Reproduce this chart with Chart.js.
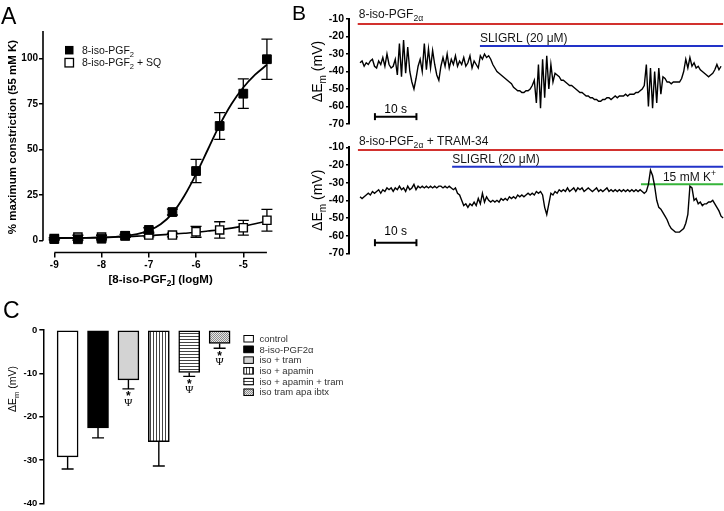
<!DOCTYPE html>
<html>
<head>
<meta charset="utf-8">
<title>8-iso-PGF2α figure</title>
<script src="https://cdn.jsdelivr.net/npm/chart.js@4.4.1/dist/chart.umd.min.js"></script>
<style>
  html, body { margin: 0; padding: 0; background: #fff; }
  #fig { position: relative; width: 724px; height: 511px; overflow: hidden; }
  #fig canvas { position: absolute; left: 0; top: 0; }
</style>
</head>
<body>
<div id="fig">
  <canvas id="chartA" width="724" height="511"></canvas>
  <canvas id="chartB1" width="724" height="511"></canvas>
  <canvas id="chartB2" width="724" height="511"></canvas>
  <canvas id="chartC" width="724" height="511"></canvas>
</div>
<script>
// ---- panel A: concentration-response (mean ± SEM) ----
const aLogConc = [-9, -8.5, -8, -7.5, -7, -6.5, -6, -5.5, -5, -4.5];
const aIsoMean = [0.9, 0.8, 1.1, 2.7, 5.9, 15.7, 38.2, 62.9, 80.6, 99.5];
const aIsoSem = [0.6, 0.6, 0.6, 0.8, 1.2, 1.6, 6.4, 7.3, 8.1, 11.0];
const aSqMean = [1.2, 2.0, 2.0, 2.7, 3.1, 3.1, 4.9, 5.9, 7.1, 11.2];
const aSqSem = [0.5, 1.0, 1.0, 0.8, 1.0, 1.0, 3.0, 4.5, 4.0, 6.0];
// fitted curves
const aFitX = [-9, -8.5, -8, -7.75, -7.5, -7.25, -7, -6.75, -6.5, -6.25, -6, -5.75, -5.5, -5.25, -5, -4.75, -4.5];
const aIsoFit = [1.5, 1.5, 1.7, 2.0, 2.6, 3.6, 5.5, 9.0, 15.0, 24.5, 36.5, 50.0, 63.5, 75.0, 84.0, 91.0, 96.5];
const aSqFit = [1.3, 1.5, 1.8, 2.0, 2.2, 2.5, 2.8, 3.2, 3.6, 4.1, 4.6, 5.3, 6.0, 6.9, 8.0, 9.3, 10.8];
const aXTicks = [-9, -8, -7, -6, -5];
const aYTicks = [0, 25, 50, 75, 100];

// ---- panel B: membrane potential traces (mV, one sample per 0.5 s) ----
const bStep = 0.5;
const bTraceIso = [
  -35, -34, -37, -35, -36, -34, -33, -37, -38, -34,
  -36, -32, -37, -30, -36, -38, -37, -33, -42, -24,
  -43, -22, -41, -26, -40, -46, -50, -44, -37, -33,
  -40, -24, -39, -27, -38, -28, -36, -42, -45, -37,
  -32, -37, -30, -38, -33, -36, -31, -37, -34, -36,
  -32, -37, -35, -31, -38, -34, -36, -38, -31, -33,
  -30, -32, -31, -33, -36, -38, -40, -41, -42, -43,
  -44, -45, -46, -47, -49, -50, -51, -51, -52, -52,
  -51, -51, -50, -48, -45, -58, -36, -61, -33, -55,
  -31, -50, -36, -46, -41, -42, -43, -45, -45, -46,
  -47, -48, -48, -49, -50, -51, -52, -52, -53, -54,
  -54, -55, -55, -56, -56, -57, -57, -56, -56, -55,
  -55, -56, -55, -54, -55, -54, -54, -54, -53, -54,
  -53, -53, -53, -52, -52, -51, -50, -48, -36, -60,
  -38, -61, -40, -58, -38, -53, -43, -44, -46, -46,
  -47, -46, -46, -46, -46, -44, -40, -33, -38, -32,
  -37, -35, -38, -37, -39, -40, -41, -42, -43, -42,
  -41, -39, -36, -39, -37,
];
const bTraceTram = [
  -38, -39, -38, -37, -36, -37, -35, -36, -35, -34,
  -36, -34, -35, -33, -34, -33, -35, -33, -34, -32,
  -34, -33, -35, -32, -34, -33, -31, -34, -32, -33,
  -32, -33, -32, -33, -32, -33, -32, -33, -32, -32,
  -33, -32, -33, -32, -33, -34, -33, -36, -37, -40,
  -43, -42, -44, -42, -43, -41, -43, -39, -42, -36,
  -41, -38, -40, -41, -40, -41, -40, -41, -39, -40,
  -39, -40, -38, -39, -38, -39, -37, -38, -37, -38,
  -37, -36, -37, -36, -37, -35, -36, -35, -37, -44,
  -48, -42, -36, -37, -35, -36, -34, -35, -34, -35,
  -33, -35, -34, -33, -35, -33, -34, -33, -35, -34,
  -33, -34, -35, -34, -33, -35, -34, -35, -34, -33,
  -35, -34, -35, -34, -35, -34, -35, -34, -35, -34,
  -35, -34, -35, -34, -35, -34, -35, -36, -35, -31,
  -23, -26, -32, -40, -44, -45, -47, -49, -51, -54,
  -56, -57, -58, -58, -58, -57, -56, -53, -48, -32,
  -33, -40, -39, -42, -41, -43, -42, -42, -41, -41,
  -40, -42, -44, -46, -49, -50,
];
const bTicks = [-10, -20, -30, -40, -50, -60, -70];
// drug application bars: label, start (s), end (s), drawn level (mV)
const bTopLabels = [[['8-iso-PGF'], ['2α', 'sub']], [['SLIGRL (20 μM)']]];
const bTopFrom = [-0.55, 28.9];
const bTopTo = [87.5, 87.5];
const bTopLevel = [-12.9, -25.4];
const bLowLabels = [[['8-iso-PGF'], ['2α', 'sub'], [' + TRAM-34']], [['SLIGRL (20 μM)']], [['15 mM K'], ['+', 'sup']]];
const bLowFrom = [-0.5, 22.2, 67.7];
const bLowTo = [87.5, 87.5, 87.5];
const bLowLevel = [-11.5, -21.0, -30.9];
const bScaleBar = [3.6, 13.6];
const bScaleText = '10 s';

// ---- panel C: change in membrane potential ----
const cGroups = ['control', '8-iso-PGF2α', 'iso + tram', 'iso + apamin', 'iso + apamin + tram', 'iso tram apa ibtx'];
const cMean = [-29.3, -22.6, -11.5, -25.8, -9.8, -3.1];
const cSem = [2.8, 2.3, 2.1, 5.6, 0.9, 1.1];
const cSig = ['', '', '*Ψ', '', '*Ψ', '*Ψ'];
const cTicks = [0, -10, -20, -30, -40];

const FONT = '"Liberation Sans", Arial, sans-serif';
Chart.defaults.font.family = FONT;
Chart.defaults.color = '#000';

// text with sub/superscript pieces: parts = [[text, 'sub'|'sup'|undefined], ...]
function drawParts(ctx, parts, x, y, size, o) {
  o = o || {};
  const w = o.bold ? 'bold ' : '';
  ctx.save();
  ctx.translate(x, y);
  if (o.rotate) ctx.rotate(o.rotate);
  ctx.textAlign = 'left';
  ctx.textBaseline = 'alphabetic';
  ctx.fillStyle = o.color || '#000';
  const segs = parts.map((p) => {
    const s = p[1] ? size * 0.72 : size;
    ctx.font = w + s + 'px ' + FONT;
    const dy = p[1] === 'sub' ? size * 0.28 : p[1] === 'sup' ? -size * 0.4 : 0;
    return { t: p[0], s, dy, wd: ctx.measureText(p[0]).width };
  });
  const total = segs.reduce((a, b) => a + b.wd, 0);
  let cx = o.align === 'center' ? -total / 2 : o.align === 'right' ? -total : 0;
  segs.forEach((sg) => {
    ctx.font = w + sg.s + 'px ' + FONT;
    ctx.fillText(sg.t, cx, sg.dy);
    cx += sg.wd;
  });
  ctx.restore();
}

function baseOptions(padding) {
  return {
    responsive: false,
    animation: false,
    events: [],
    layout: { padding, autoPadding: false },
    plugins: { legend: { display: false }, tooltip: { enabled: false } },
  };
}

function fixedTicks(values) {
  return (s) => { s.ticks = values.map((v) => ({ value: v })); };
}

// ---------------- A ----------------
const errorBarsA = {
  id: 'errorBarsA',
  beforeDatasetsDraw(chart) {
    const { ctx, scales } = chart;
    chart.data.datasets.forEach((ds, di) => {
      if (!ds.errorBars) return;
      const meta = chart.getDatasetMeta(di);
      ctx.save();
      ctx.strokeStyle = '#000';
      ctx.lineWidth = 1.3;
      meta.data.forEach((pt, i) => {
        const v = ds.data[i].y, e = ds.errorBars[i];
        const y1 = scales.y.getPixelForValue(v + e);
        const y2 = scales.y.getPixelForValue(v - e);
        const hw = 5.5;
        ctx.beginPath();
        ctx.moveTo(pt.x, y1); ctx.lineTo(pt.x, y2);
        ctx.moveTo(pt.x - hw, y1); ctx.lineTo(pt.x + hw, y1);
        ctx.moveTo(pt.x - hw, y2); ctx.lineTo(pt.x + hw, y2);
        ctx.stroke();
      });
      ctx.restore();
    });
  },
};

const decorA = {
  id: 'decorA',
  afterDraw(chart) {
    const { ctx, scales: { x, y }, chartArea } = chart;
    ctx.save();
    ctx.strokeStyle = '#000';
    ctx.lineWidth = 1.6;
    ctx.beginPath();
    ctx.moveTo(chartArea.left, y.getPixelForValue(aYTicks[0]));
    ctx.lineTo(chartArea.left, chartArea.top);
    ctx.moveTo(x.getPixelForValue(aLogConc[0]), chartArea.bottom);
    ctx.lineTo(x.getPixelForValue(aLogConc[aLogConc.length - 1]), chartArea.bottom);
    ctx.stroke();

    // legend
    const lx = chartArea.left + 26, ly = chartArea.top + 19;
    ctx.fillStyle = '#000';
    ctx.fillRect(lx - 4, ly - 4, 8.5, 8.5);
    ctx.fillStyle = '#fff';
    ctx.lineWidth = 1.3;
    ctx.fillRect(lx - 4, ly + 8.5, 8.5, 8.5);
    ctx.strokeRect(lx - 4, ly + 8.5, 8.5, 8.5);
    ctx.restore();
    drawParts(ctx, [['8-iso-PGF'], ['2', 'sub']], lx + 13, ly + 4, 10.5, { color: '#111' });
    drawParts(ctx, [['8-iso-PGF'], ['2', 'sub'], [' + SQ']], lx + 13, ly + 16.5, 10.5, { color: '#111' });

    // axis titles and panel letter
    drawParts(ctx, [['% maximum constriction (55 mM K)']], 16, 137, 11.5, { bold: true, rotate: -Math.PI / 2, align: 'center' });
    const xc = (x.getPixelForValue(aLogConc[0]) + x.getPixelForValue(aLogConc[aLogConc.length - 1])) / 2;
    drawParts(ctx, [['[8-iso-PGF'], ['2', 'sub'], ['] (logM)']], xc, 283, 11.5, { bold: true, align: 'center' });
    drawParts(ctx, [['A']], 1, 24, 23);
  },
};

new Chart(document.getElementById('chartA'), {
  type: 'scatter',
  data: {
    datasets: [
      {
        data: aLogConc.map((v, i) => ({ x: v, y: aIsoMean[i] })),
        errorBars: aIsoSem,
        pointStyle: 'rect', pointRadius: 6.2,
        backgroundColor: '#000', borderColor: '#000', borderWidth: 1, clip: false,
      },
      {
        data: aLogConc.map((v, i) => ({ x: v, y: aSqMean[i] })),
        errorBars: aSqSem,
        pointStyle: 'rect', pointRadius: 5.8,
        backgroundColor: '#fff', borderColor: '#000', borderWidth: 1.4, clip: false,
      },
      {
        data: aFitX.map((v, i) => ({ x: v, y: aIsoFit[i] })),
        showLine: true, pointRadius: 0, borderColor: '#000', borderWidth: 1.8,
        cubicInterpolationMode: 'monotone', clip: false,
      },
      {
        data: aFitX.map((v, i) => ({ x: v, y: aSqFit[i] })),
        showLine: true, pointRadius: 0, borderColor: '#000', borderWidth: 1.6,
        cubicInterpolationMode: 'monotone', clip: false,
      },
    ],
  },
  options: Object.assign(baseOptions({ left: 3, right: 452.35, top: 30.94, bottom: 238.44 }), {
    scales: {
      x: {
        type: 'linear', min: -9.239, max: -4.4,
        afterFit: (s) => { s.height = 20; },
        afterBuildTicks: fixedTicks(aXTicks),
        grid: { drawOnChartArea: false, tickLength: 5, color: '#000', lineWidth: 1.5 },
        border: { display: false },
        ticks: { font: { size: 10, weight: 'bold' }, color: '#000', padding: 2, maxRotation: 0 },
      },
      y: {
        type: 'linear', min: -6.5, max: 115,
        afterFit: (s) => { s.width = 40; },
        afterBuildTicks: fixedTicks(aYTicks),
        grid: { drawOnChartArea: false, tickLength: 4, color: '#000', lineWidth: 1.5 },
        border: { display: false },
        ticks: { font: { size: 10, weight: 'bold' }, color: '#000', padding: 1 },
      },
    },
  }),
  plugins: [errorBarsA, decorA],
});

// ---------------- B ----------------
const DRUG_COLORS = ['#d2312e', '#2233c8', '#36b53a'];

function traceChart(id, cfg) {
  const datasets = [{
    data: cfg.trace.map((v, i) => ({ x: i * bStep, y: v })),
    showLine: true, pointRadius: 0, borderColor: '#000', borderWidth: 1.4, clip: false,
  }];
  cfg.from.forEach((f, i) => {
    datasets.push({
      data: [{ x: f, y: cfg.level[i] }, { x: cfg.to[i], y: cfg.level[i] }],
      showLine: true, pointRadius: 0, borderColor: DRUG_COLORS[i], borderWidth: 2, clip: false,
    });
  });
  datasets.push({
    data: bScaleBar.map((v) => ({ x: v, y: cfg.barLevel })),
    showLine: true, borderColor: '#000', borderWidth: 2,
    pointStyle: 'line', pointRotation: 90, pointRadius: 3.5,
    pointBorderColor: '#000', pointBorderWidth: 2, clip: false,
  });

  const decor = {
    id: 'decor' + id,
    afterDraw(chart) {
      const { ctx, scales: { x, y }, chartArea } = chart;
      cfg.labels.forEach((parts, i) => {
        drawParts(ctx, parts, x.getPixelForValue(cfg.from[i]) + cfg.labelDx[i],
          y.getPixelForValue(cfg.level[i]) + cfg.labelDy[i], 12, { color: '#151515' });
      });
      const mid = (bScaleBar[0] + bScaleBar[1]) / 2;
      drawParts(ctx, [[bScaleText]], x.getPixelForValue(mid), y.getPixelForValue(cfg.barLevel) + cfg.barTextDy, 12, { align: 'center' });
      drawParts(ctx, [['ΔE'], ['m', 'sub'], [' (mV)']], chartArea.left - 27, (chartArea.top + chartArea.bottom) / 2, 14,
        { rotate: -Math.PI / 2, align: 'center' });
      if (cfg.letter) drawParts(ctx, [[cfg.letter]], 292, 20, 21);
    },
  };

  new Chart(document.getElementById(id), {
    type: 'scatter',
    data: { datasets },
    options: Object.assign(baseOptions({ left: 309, right: 2, top: cfg.top, bottom: cfg.bottom }), {
      scales: {
        x: { type: 'linear', min: -2.65, max: 87.23, display: false },
        y: {
          type: 'linear', min: -70, max: -10,
          afterFit: (s) => { s.width = 40; },
          afterBuildTicks: fixedTicks(bTicks),
          grid: { drawOnChartArea: false, tickLength: 3, color: '#000', lineWidth: 1.5 },
          border: { display: true, color: '#000', width: 2 },
          ticks: { font: { size: 10.5, weight: 'bold' }, color: '#000', padding: 2 },
        },
      },
    }),
    plugins: [decor],
  });
}

traceChart('chartB1', {
  trace: bTraceIso, top: 19, bottom: 387,
  labels: bTopLabels, from: bTopFrom, to: bTopTo, level: bTopLevel,
  labelDx: [1, 0], labelDy: [-6, -4],
  barLevel: -65.8, barTextDy: -4, letter: 'B',
});
traceChart('chartB2', {
  trace: bTraceTram, top: 147.3, bottom: 257.7,
  labels: bLowLabels, from: bLowFrom, to: bLowTo, level: bLowLevel,
  labelDx: [1, 0, 22], labelDy: [-5, -3.5, -3.5],
  barLevel: -64, barTextDy: -8, letter: '',
});

// ---------------- C ----------------
function makePattern(kind) {
  const c = document.createElement('canvas');
  const g = c.getContext('2d');
  if (kind === 'v') {
    c.width = 3; c.height = 3;
    g.fillStyle = '#fff'; g.fillRect(0, 0, 3, 3);
    g.fillStyle = '#444'; g.fillRect(0, 0, 1, 3);
  } else if (kind === 'h') {
    c.width = 3; c.height = 3;
    g.fillStyle = '#fff'; g.fillRect(0, 0, 3, 3);
    g.fillStyle = '#444'; g.fillRect(0, 0, 3, 1);
  } else {
    c.width = 2; c.height = 2;
    g.fillStyle = '#e6e6e6'; g.fillRect(0, 0, 2, 2);
    g.fillStyle = '#8c8c8c'; g.fillRect(0, 0, 1, 1); g.fillRect(1, 1, 1, 1);
  }
  return g.createPattern(c, 'repeat');
}
const C_FILLS = ['#ffffff', '#000000', '#d3d3d3', makePattern('v'), makePattern('h'), makePattern('d')];

const decorC = {
  id: 'decorC',
  afterDatasetsDraw(chart) {
    const { ctx, scales: { y } } = chart;
    const meta = chart.getDatasetMeta(0);
    ctx.save();
    ctx.strokeStyle = '#000';
    ctx.lineWidth = 1.4;
    meta.data.forEach((bar, i) => {
      const y0 = y.getPixelForValue(cMean[i]);
      const y1 = y.getPixelForValue(cMean[i] - cSem[i]);
      ctx.beginPath();
      ctx.moveTo(bar.x, y0); ctx.lineTo(bar.x, y1);
      ctx.moveTo(bar.x - 6, y1); ctx.lineTo(bar.x + 6, y1);
      ctx.stroke();
      if (cSig[i]) {
        ctx.fillStyle = '#000';
        ctx.textAlign = 'center';
        ctx.textBaseline = 'middle';
        ctx.font = 'bold 12px ' + FONT;
        ctx.fillText(cSig[i][0], bar.x, y1 + 8);
        ctx.font = '11px "Liberation Serif", "DejaVu Serif", serif';
        ctx.fillText(cSig[i][1], bar.x, y1 + 14);
      }
    });
    ctx.restore();
  },
  afterDraw(chart) {
    const { ctx, chartArea } = chart;
    // legend
    const bx = chartArea.right + 2.5, by0 = chartArea.top + 8.5;
    cGroups.forEach((name, i) => {
      const by = by0 + i * 10.7;
      ctx.save();
      ctx.fillStyle = C_FILLS[i];
      ctx.fillRect(bx, by - 3.5, 10, 7);
      ctx.strokeStyle = '#000';
      ctx.lineWidth = 1;
      ctx.strokeRect(bx + 0.5, by - 3, 9.5, 6.5);
      ctx.restore();
      drawParts(ctx, [[name]], bx + 16, by + 3.3, 9.5, { color: '#333' });
    });
    drawParts(ctx, [['ΔE'], ['m', 'sub'], [' (mV)']], 16, 389, 10.5, { rotate: -Math.PI / 2, align: 'center' });
    drawParts(ctx, [['C']], 3, 318, 23);
  },
};

new Chart(document.getElementById('chartC'), {
  type: 'bar',
  data: {
    datasets: [{
      data: cMean.map((v, i) => ({ x: i + 0.8, y: v })),
      backgroundColor: C_FILLS,
      borderColor: '#000', borderWidth: 1.5, borderSkipped: false,
      barThickness: 21,
    }],
  },
  options: Object.assign(baseOptions({ left: 3.3, right: 483.1, top: 330, bottom: 4.3 }), {
    scales: {
      x: { type: 'linear', min: 0, max: 6.5, display: false, offset: false },
      y: {
        type: 'linear', min: -40, max: 0,
        afterFit: (s) => { s.width = 40; },
        afterBuildTicks: fixedTicks(cTicks),
        grid: { drawOnChartArea: false, tickLength: 4, color: '#000', lineWidth: 1.5 },
        border: { display: true, color: '#000', width: 1.5 },
        ticks: { font: { size: 9.5, weight: 'bold' }, color: '#000', padding: 2 },
      },
    },
  }),
  plugins: [decorC],
});
</script>
</body>
</html>
